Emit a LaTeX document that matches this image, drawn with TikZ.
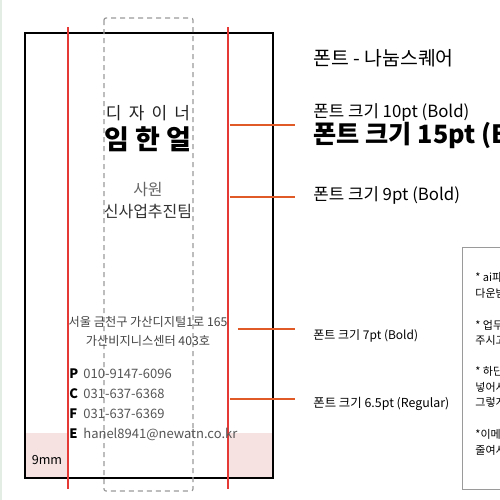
\documentclass[tikz,border=0pt]{standalone}
\usepackage{fontspec}
\setmainfont{Noto Sans CJK KR}
\definecolor{guide}{HTML}{E53935}
\definecolor{leader}{HTML}{E05A28}
\definecolor{bleed}{HTML}{F7E2E2}
\definecolor{safe}{HTML}{9A9A9A}
\definecolor{edge}{HTML}{E4EDE4}
\newcommand{\pts}[1]{\fontsize{#1}{#1}\selectfont}
\tikzset{
  txt/.style={inner sep=0pt, text height=0.78em, text depth=0.05em},
  lbl/.style={txt, anchor=west},
  leaderline/.style={draw=leader, line width=0.8pt},
  guideline/.style={draw=guide, line width=0.65pt}
}
\begin{document}
\begin{tikzpicture}[x=0.5pt, y=-0.5pt]
  \clip (0,0) rectangle (500,500);
  \fill[white] (0,0) rectangle (500,500);
  \fill[edge] (0,0) rectangle (2,500);
  \begin{scope}
    % card
    \fill[bleed] (26,433) rectangle (68,477);
    \fill[bleed] (228,433) rectangle (272,477);
    \draw[line width=1pt] (25,33) rectangle (273,478);
    \draw[safe, line width=0.6pt, dash pattern=on 2.5pt off 2pt, rounded corners=1pt] (104,18) rectangle (193,491);
    \draw[guideline] (68,27) -- (68,489);
    \draw[guideline] (228,27) -- (228,489);

    \node[txt] (job) at (148,112) {\pts{8.5pt}\color[HTML]{222222}\spaceskip=3.6pt\relax 디 자 이 너};
    \node[txt] (name) at (148,142) {\pts{13.5pt}\bfseries 임 한 얼};
    \node[txt] (rank) at (148,188) {\pts{8pt}\color[HTML]{666666}사원};
    \node[txt] (team) at (148,210) {\pts{8pt}\color[HTML]{333333}신사업추진팀};

    \node[txt] (addr1) at (148,319) {\pts{6.1pt}\color[HTML]{444444}서울 금천구 가산디지털1로 165};
    \node[txt] (addr2) at (148,338) {\pts{6.1pt}\color[HTML]{444444}가산비지니스센터 403호};

    \node[lbl] (p) at (69,371) {\pts{6.5pt}\bfseries P};
    \node[lbl] (c) at (69,391) {\pts{6.5pt}\bfseries C};
    \node[lbl] (f) at (69,411) {\pts{6.5pt}\bfseries F};
    \node[lbl] (e) at (69,431) {\pts{6.5pt}\bfseries E};
    \node[lbl] (ptel) at (83,371) {\pts{6.5pt}\color[HTML]{555555}010-9147-6096};
    \node[lbl] (ctel) at (83,391) {\pts{6.5pt}\color[HTML]{555555}031-637-6368};
    \node[lbl] (ftel) at (83,411) {\pts{6.5pt}\color[HTML]{555555}031-637-6369};
    \node[lbl] (mail) at (83,431) {\pts{6.5pt}\color[HTML]{555555}hanel8941@newatn.co.kr};
    \node[txt] (mm) at (47,457) {\pts{6.3pt}9mm};
  \end{scope}

  \begin{scope}
    % notes
    \node[lbl] (font) at (313,58) {\pts{9.7pt}폰트 - 나눔스퀘어};
    \node[lbl] (size10) at (313,110) {\pts{8.4pt}폰트 크기 10pt (Bold)};
    \node[lbl] (size15) at (313,136) {\pts{12.6pt}\bfseries 폰트 크기 15pt (Bold)};
    \node[lbl] (size9) at (313,193) {\pts{8.4pt}폰트 크기 9pt (Bold)};
    \node[lbl] (size7) at (313,332) {\pts{6pt}폰트 크기 7pt (Bold)};
    \node[lbl] (size65) at (313,400) {\pts{6.2pt}폰트 크기 6.5pt (Regular)};

    \coordinate (a1) at (230,125); \coordinate (b1) at (295,125);
    \coordinate (a2) at (230,197); \coordinate (b2) at (295,197);
    \coordinate (a3) at (238,329); \coordinate (b3) at (295,329);
    \coordinate (a4) at (230,399); \coordinate (b4) at (295,399);
    \draw[leaderline] (a1) -- (b1);
    \draw[leaderline] (a2) -- (b2);
    \draw[leaderline] (a3) -- (b3);
    \draw[leaderline] (a4) -- (b4);

    \draw[safe, line width=0.5pt] (463,247) rectangle (520,489);
    \node[lbl] (n1) at (475,274) {\pts{5.5pt}* ai파일};
    \node[lbl] (n2) at (475,290) {\pts{5.5pt}다운받아};
    \node[lbl] (n3) at (475,322) {\pts{5.5pt}* 업무};
    \node[lbl] (n4) at (475,337) {\pts{5.5pt}주시고};
    \node[lbl] (n5) at (475,368) {\pts{5.5pt}* 하단};
    \node[lbl] (n6) at (475,384) {\pts{5.5pt}넣어서};
    \node[lbl] (n7) at (475,399) {\pts{5.5pt}그렇게};
    \node[lbl] (n8) at (475,431) {\pts{5.5pt}*이메일};
    \node[lbl] (n9) at (475,447) {\pts{5.5pt}줄여서};
  \end{scope}
\end{tikzpicture}
\end{document}
